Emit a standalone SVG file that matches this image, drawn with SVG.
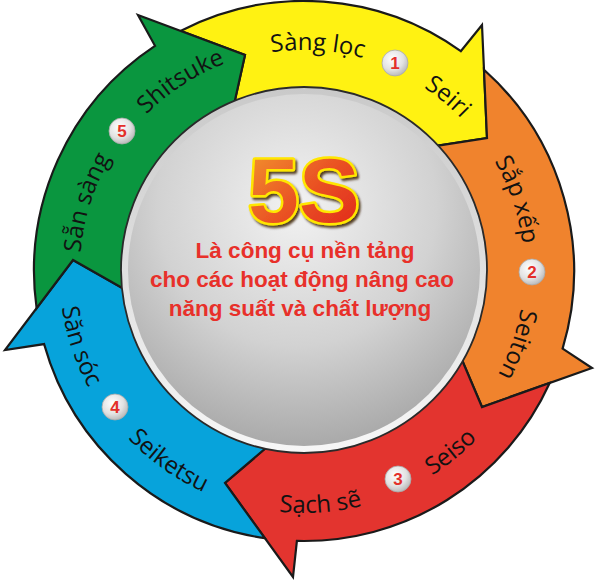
<svg xmlns="http://www.w3.org/2000/svg" width="600" height="582" viewBox="0 0 600 582">
<defs>
<style>
.arrow{stroke:#1a1a1a;stroke-width:2.2;stroke-linejoin:miter}
.lbl{font-family:"Open Sans","Noto Sans","DejaVu Sans",sans-serif;font-size:24px;fill:#121212}
.num{font-family:"Liberation Sans","DejaVu Sans",sans-serif;font-weight:bold;font-size:17px;fill:#e3302a;text-anchor:middle}
.badge{fill:url(#badgeGrad);stroke:#a9a9a9;stroke-width:0.8}
.sub{font-family:"Liberation Sans",Arial,sans-serif;font-weight:bold;font-size:22.5px;fill:#e8302a;text-anchor:middle}
.big{font-family:"Liberation Sans",Arial,sans-serif;font-weight:bold;font-size:91px;text-anchor:middle;fill:url(#g5s);stroke:#ffe600;stroke-width:5;paint-order:stroke;stroke-linejoin:round}
</style>
<radialGradient id="badgeGrad" cx="0.4" cy="0.35" r="0.7">
<stop offset="0" stop-color="#ffffff"/><stop offset="0.6" stop-color="#e2e2e2"/><stop offset="1" stop-color="#b4b4b4"/>
</radialGradient>
<radialGradient id="discGrad" cx="0.48" cy="0.32" r="0.72">
<stop offset="0" stop-color="#f2f2f2"/><stop offset="0.55" stop-color="#d2d2d2"/><stop offset="1" stop-color="#a4a4a4"/>
</radialGradient>
<linearGradient id="rimGrad" x1="0" y1="0" x2="0" y2="1">
<stop offset="0" stop-color="#c9c9c9"/><stop offset="1" stop-color="#f7f7f7"/>
</linearGradient>
<linearGradient id="g5s" x1="0" y1="0" x2="1" y2="1">
<stop offset="0" stop-color="#f39a30"/><stop offset="0.5" stop-color="#ea5424"/><stop offset="1" stop-color="#df221b"/>
</linearGradient>
<filter id="shadow" x="-20%" y="-20%" width="140%" height="140%">
<feDropShadow dx="2" dy="2.5" stdDeviation="1.2" flood-color="#3a1a00" flood-opacity="0.85"/>
</filter>
<path id="p1a" d="M172.6,93.3 A221,221 0 0 1 456.1,110.7"/>
<path id="p1b" d="M302.1,52 A219,219 0 0 1 519.3,231.1"/>
<path id="p2a" d="M418.9,83.4 A220,220 0 0 1 508.7,351.6"/>
<path id="p2b" d="M509.4,192.2 A220,220 0 0 1 417.3,459.6"/>
<path id="p3a" d="M161.8,466.8 A242,242 0 0 0 472.1,445.1"/>
<path id="p3b" d="M299.8,512 A241,241 0 0 0 540.6,317"/>
<path id="p4a" d="M76.1,181.2 A245,245 0 0 0 176,479.9"/>
<path id="p4b" d="M68.8,331.8 A243,243 0 0 0 323.1,513.2"/>
<path id="p5a" d="M97,356.7 A224,224 0 0 1 183.6,82.1"/>
<path id="p5b" d="M91.7,206.1 A222,222 0 0 1 331.1,50.7"/>
</defs>

<g id="step-1-seiri">
<path class="arrow" fill="#fff212" d="M180.5,30.9 A270,270 0 0 1 460.8,51.2 L482,25 L487,138 L428.5,147.1 A175,175 0 0 0 232,113.5 L245,55 Z"/>
<text class="lbl"><textPath href="#p1a" startOffset="50%" text-anchor="middle">Sàng lọc</textPath></text>
<text class="lbl"><textPath href="#p1b" startOffset="50%" text-anchor="middle">Seiri</textPath></text>
<circle class="badge" cx="395" cy="63" r="13"/>
<text class="num" x="395" y="69">1</text>
</g>

<g id="step-2-seiton">
<path class="arrow" fill="#f0832d" d="M484,69.7 A270,270 0 0 1 562.6,348.6 L592,368 L482,407 L459.9,355 A175,175 0 0 0 428.5,147.1 L487,138 Z"/>
<text class="lbl"><textPath href="#p2a" startOffset="50%" text-anchor="middle">Sắp xếp</textPath></text>
<text class="lbl"><textPath href="#p2b" startOffset="50%" text-anchor="middle">Seiton</textPath></text>
<circle class="badge" cx="532" cy="272" r="13"/>
<text class="num" x="532" y="278">2</text>
</g>

<g id="step-3-seiso">
<path class="arrow" fill="#e3342f" d="M549.7,383 A270,270 0 0 1 296.9,540.9 L293,577 L225,483 L270.5,444 A175,175 0 0 0 459.9,355 L482,407 Z"/>
<text class="lbl"><textPath href="#p3a" startOffset="50%" text-anchor="middle">Sạch sẽ</textPath></text>
<text class="lbl"><textPath href="#p3b" startOffset="50%" text-anchor="middle">Seiso</textPath></text>
<circle class="badge" cx="398" cy="479" r="13"/>
<text class="num" x="398" y="485">3</text>
</g>

<g id="step-4-seiketsu">
<path class="arrow" fill="#07a3db" d="M264.9,538.2 A270,270 0 0 1 44.1,344.1 L5,350 L73,260 L130.2,292.5 A175,175 0 0 0 270.5,444 L225,483 Z"/>
<text class="lbl"><textPath href="#p4a" startOffset="50%" text-anchor="middle">Săn sóc</textPath></text>
<text class="lbl"><textPath href="#p4b" startOffset="50%" text-anchor="middle">Seiketsu</textPath></text>
<circle class="badge" cx="115" cy="407" r="13"/>
<text class="num" x="115" y="413">4</text>
</g>

<g id="step-5-shitsuke">
<path class="arrow" fill="#0a963f" d="M36.6,308.2 A270,270 0 0 1 155,45.8 L138,15 L245,55 L232,113.5 A175,175 0 0 0 130.2,292.5 L73,260 Z"/>
<text class="lbl"><textPath href="#p5a" startOffset="50%" text-anchor="middle">Sẵn sàng</textPath></text>
<text class="lbl"><textPath href="#p5b" startOffset="50%" text-anchor="middle">Shitsuke</textPath></text>
<circle class="badge" cx="122" cy="131" r="13"/>
<text class="num" x="122" y="137">5</text>
</g>

<g id="center">
<circle cx="304" cy="270" r="183" fill="url(#rimGrad)" stroke="#2a2a2a" stroke-width="1.8"/>
<circle cx="304" cy="270" r="176" fill="url(#discGrad)"/>
<text class="big" x="304" y="222" filter="url(#shadow)">5S</text>
<text class="sub" x="305" y="258">Là công cụ nền tảng</text>
<text class="sub" x="302" y="287">cho các hoạt động nâng cao</text>
<text class="sub" x="300" y="316">năng suất và chất lượng</text>
</g>
</svg>
